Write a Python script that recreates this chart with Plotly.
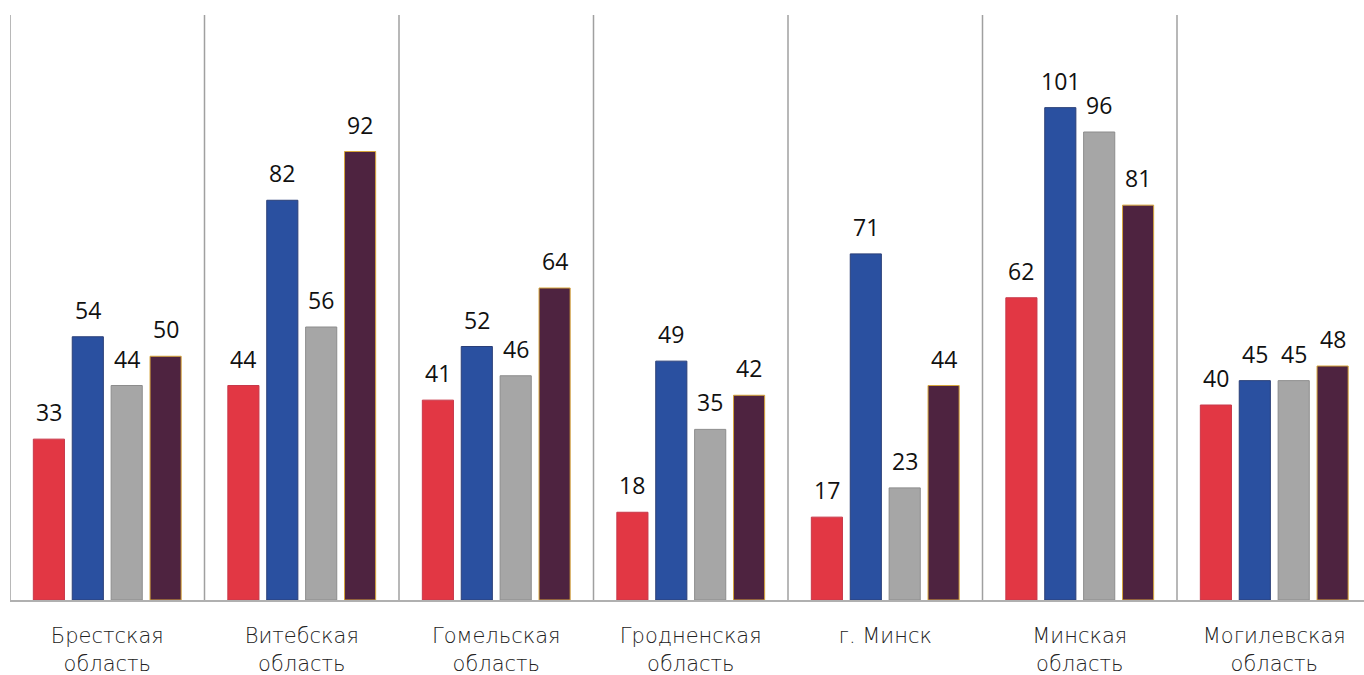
import plotly.graph_objects as go

categories = ["Брестская<br>область", "Витебская<br>область", "Гомельская<br>область",
              "Гродненская<br>область", "г. Минск", "Минская<br>область", "Могилевская<br>область"]
series_a = [33, 44, 41, 18, 17, 62, 40]
series_b = [54, 82, 52, 49, 71, 101, 45]
series_c = [44, 56, 46, 35, 23, 96, 45]
series_d = [50, 92, 64, 42, 44, 81, 48]

series = [series_a, series_b, series_c, series_d]
colors = ["#E23744", "#2A50A0", "#A6A6A6", "#4E2340"]
edges = ["#C8384A", "#2A3F78", "#8C8C8C", "#D6A53A"]

n = len(categories)
xs = list(range(n))
slot = 0.2

fig = go.Figure()
for k, (vals, c, e) in enumerate(zip(series, colors, edges)):
    fig.add_trace(go.Bar(x=xs, y=vals, marker=dict(color=c, line=dict(color=e, width=1)),
                         showlegend=False, hoverinfo="skip"))

annotations = []
for k, vals in enumerate(series):
    for i, v in enumerate(vals):
        annotations.append(dict(x=i + (k - 1.5) * slot, y=v, text=str(v), showarrow=False,
                                yanchor="middle", yshift=27,
                                font=dict(family="Open Sans", size=23, color="#111111", weight=500)))

shapes = []
for i in range(n):
    shapes.append(dict(type="line", xref="x", yref="paper", x0=i - 0.5, x1=i - 0.5, y0=0, y1=1,
                       line=dict(color="#A0A0A0", width=1.5), layer="below"))

W, H = 1364, 675
ml, mr, mt, mb = 10, 0, 15, 75
cat_px = 194.5
xmax = -0.5 + (W - ml - mr) / cat_px

fig.update_layout(
    width=W, height=H, margin=dict(l=ml, r=mr, t=mt, b=mb),
    paper_bgcolor="white", plot_bgcolor="white",
    barmode="group", bargap=0.2, bargroupgap=0.2,
    annotations=annotations, shapes=shapes,
    xaxis=dict(range=[-0.5, xmax], tickmode="array", tickvals=xs, ticktext=categories,
               showgrid=False, zeroline=False, showline=True, linecolor="#B0B0B0", linewidth=2,
               ticks="outside", ticklen=0, ticklabelstandoff=16,
               tickfont=dict(family="DejaVu Sans", size=21, color="#222222", weight=200)),
    yaxis=dict(range=[0, 120], visible=False, showgrid=False, zeroline=False),
)

fig.write_html("out.html", config={"displayModeBar": False},
               post_script="document.body.style.margin='0';document.body.style.overflow='hidden';")
